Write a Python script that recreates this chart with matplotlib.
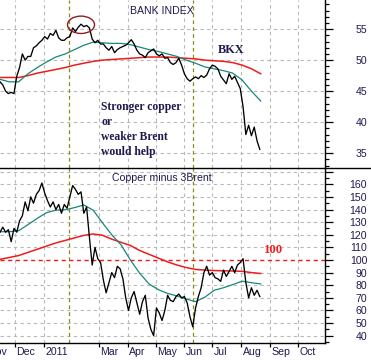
import matplotlib
matplotlib.use('Agg')
import matplotlib.pyplot as plt
import matplotlib.dates as mdates
from matplotlib.patches import Ellipse
from matplotlib.lines import Line2D
import numpy as np
import pandas as pd

plt.rcParams['font.family'] = ['Liberation Sans', 'DejaVu Sans']

# ---- data ----
START = '2010-11-15'

bkx_close = [46.5, 46.0, 45.0, 44.6, 44.8, 44.6, 47.4, 48.8, 51.0, 50.0,
             50.6, 50.6, 52.0, 52.3, 52.8, 53.2, 53.8, 53.4, 54.3, 54.0,
             54.8, 53.6, 53.2, 53.2, 53.6, 53.8, 55.2, 54.6, 55.3, 55.8,
             55.4, 55.6, 55.2, 53.4, 52.8, 53.2, 52.6, 52.6, 52.0, 51.6,
             52.2, 51.2, 51.7, 52.0, 52.2, 52.4, 52.8, 53.3, 52.6, 51.6,
             51.0, 50.8, 50.4, 51.2, 51.5, 51.8, 51.0, 50.7, 51.0, 50.3,
             50.4, 49.6, 49.3, 49.6, 50.3, 49.2, 47.8, 47.0, 46.6, 47.0,
             47.3, 47.0, 47.5, 47.2, 47.6, 48.6, 49.2, 49.0, 48.6, 47.4,
             46.8, 46.2, 47.8, 46.9, 47.4, 46.4, 45.4, 42.5, 38.0, 39.5,
             37.8, 39.2, 37.0, 35.6]

spread_close = [122, 126, 122, 124, 114.5, 125, 122, 131, 135, 146,
                139, 150, 145, 152, 155, 161, 153, 147, 142, 146,
                140, 144, 137, 144, 141, 150, 159, 156, 152, 154,
                137, 142, 118, 96, 110, 101, 98, 84, 74, 82,
                90, 86, 95, 93, 85, 70, 60, 70, 75, 66,
                57, 67, 72, 54, 45, 40, 62, 58, 52, 60,
                72, 68, 67, 71, 73, 70, 71, 66, 55, 47,
                62, 71, 78, 90, 95, 88, 90, 86, 85, 83,
                92, 87, 91, 95, 90, 96, 98, 101, 82, 70,
                78, 72, 76, 71]

# moving averages, sampled every 10 days
bkx_ma50 = [46.9, 46.5, 46.5, 47.8, 48.8, 49.7, 50.5, 51.0, 51.7, 52.4,
            52.9, 52.8, 52.7, 52.7, 52.5, 52.1, 51.7, 51.4, 51.0, 50.6,
            50.0, 49.5, 48.9, 48.6, 48.3, 47.9, 46.8, 45.0, 43.4]
bkx_ma200 = [47.2, 47.2, 47.2, 47.5, 47.9, 48.2, 48.5, 48.8, 49.2, 49.5,
             49.8, 50.0, 50.1, 50.2, 50.3, 50.4, 50.5, 50.5, 50.5, 50.4,
             50.3, 50.2, 50.0, 49.9, 49.8, 49.6, 49.2, 48.6, 47.8]
spread_ma50 = [122.4, 122.4, 123.2, 128, 133, 137.5, 139.5, 139.8, 141.5, 143.6,
               139.5, 129.5, 120, 112, 100, 89.5, 81, 76.5, 73.5, 71.5,
               69, 67, 70.5, 76, 78, 80.5, 83.2, 82, 81]
spread_ma200 = [100.5, 102, 103.5, 106, 108.5, 111, 113.5, 115.5, 117.5, 119.5,
                120.6, 119.6, 116.5, 114, 111.5, 107.5, 104.5, 101.5, 98.5, 96,
                94, 92.5, 92, 91.6, 91.4, 91.3, 91, 90, 89.3]

month_starts = ['2010-11-01', '2010-12-01', '2011-01-01', '2011-03-01', '2011-04-01',
                '2011-05-01', '2011-06-01', '2011-07-01', '2011-08-01', '2011-09-01',
                '2011-10-01']
month_labels = ['Nov', 'Dec', '2011', 'Mar', 'Apr', 'May', 'Jun', 'Jul', 'Aug', 'Sep', 'Oct']
marker_dates = ['2011-01-28', '2011-06-10']
spread_level = 100

daily = pd.date_range(START, periods=len(bkx_close), freq='3D')
ma_dates = pd.date_range(START, periods=len(bkx_ma50), freq='10D')
months = pd.to_datetime(month_starts)

# ---- style ----
BLACK = '#000000'
TEAL = '#17877a'
RED = '#f01c1c'
GRID = '#b8b8b8'
OLIVE = '#8c8c14'
NAVY = '#1e1a4e'

W, H = 371, 360
fig = plt.figure(figsize=(W / 100, H / 100), dpi=100)
fig.patch.set_facecolor('white')
ax1 = fig.add_axes([0, 1 - 168 / H, 325 / W, 168 / H])
ax2 = fig.add_axes([0, 1 - 343 / H, 325 / W, 175 / H])

xmin, xmax = pd.Timestamp('2010-11-15'), pd.Timestamp('2011-10-30')


def base(ax, ylim, major, minor, labels):
    ax.set_xlim(xmin, xmax)
    ax.set_ylim(*ylim)
    for s in ('left', 'top', 'bottom'):
        ax.spines[s].set_visible(False)
    ax.spines['right'].set_linewidth(1.0)
    ax.yaxis.tick_right()
    ax.set_yticks(major, labels=labels, ha='right', fontsize=7.6, color=NAVY)
    ax.set_yticks(minor, minor=True)
    ax.tick_params(axis='y', which='major', length=5.8, width=0.9, pad=24.5)
    ax.tick_params(axis='y', which='minor', length=3, width=0.9)
    ax.set_xticks([])
    for m in months[1:]:
        ax.axvline(m, color=GRID, lw=0.8, ls=(0, (3, 3)), zorder=0)
    for d in pd.to_datetime(marker_dates):
        ax.axvline(d, color=OLIVE, lw=0.9, ls=(0, (3, 2.5)), zorder=1)


# ---- top panel: bank index ----
top_major = [35, 40, 45, 50, 55]
base(ax1, (32.6, 59.7), top_major, np.arange(33, 60, 1), [str(v) for v in top_major])
for v in top_major:
    ax1.axhline(v, color=GRID, lw=0.8, ls=(0, (3, 3)), zorder=0)
ax1.plot(ma_dates, bkx_ma200, color=RED, lw=1.1, zorder=2)
ax1.plot(ma_dates, bkx_ma50, color=TEAL, lw=0.9, zorder=3)
ax1.plot(daily, bkx_close, color=BLACK, lw=0.95, zorder=4)

peak = int(np.argmax(bkx_close))
ax1.add_patch(Ellipse((mdates.date2num(daily[peak]), bkx_close[peak] - 0.1),
                      width=29, height=2.8, fill=False, ec='#8e1c24', lw=1.0, zorder=5))

ax1.text(0.498, 0.935, 'BANK INDEX', transform=ax1.transAxes, ha='center', va='center',
         fontsize=7.6, color=NAVY)
ax1.text(0.711, 0.703, 'BKX', transform=ax1.transAxes, ha='center', va='center',
         fontsize=8.8, fontweight='bold', family='Liberation Serif', color=NAVY)
ax1.text(0.311, 0.228, 'Stronger copper\nor\nweaker Brent\nwould help',
         transform=ax1.transAxes, ha='left', va='center', fontsize=8.4,
         fontweight='bold', family='Liberation Serif', color=NAVY, linespacing=1.33)

# ---- bottom panel: copper minus 3 x brent ----
bot_major = list(range(40, 171, 10))
bot_labels = [str(v) if v <= 160 else '' for v in bot_major]
base(ax2, (34.2, 172.9), bot_major, list(range(35, 171, 10)), bot_labels)
ax2.spines['bottom'].set_visible(True)
ax2.spines['bottom'].set_linewidth(1.0)
for v in bot_major:
    if v != spread_level:
        ax2.axhline(v, color=GRID, lw=0.8, ls=(0, (3, 3)), zorder=0)
ax2.axhline(spread_level, color=RED, lw=1.0, ls=(0, (3, 2.5)), zorder=1)
ax2.plot(ma_dates, spread_ma200, color=RED, lw=1.1, zorder=2)
ax2.plot(ma_dates, spread_ma50, color=TEAL, lw=0.9, zorder=3)
ax2.plot(daily, spread_close, color=BLACK, lw=0.95, zorder=4)

ax2.set_xticks(months[1:])
ax2.set_xticklabels([])
ax2.tick_params(axis='x', which='major', length=3, width=0.9, direction='out')

ax2.text(0.497, 0.943, 'Copper minus 3Brent', transform=ax2.transAxes, ha='center',
         va='center', fontsize=7.6, color=NAVY)
ax2.text(0.843, 0.531, str(spread_level), transform=ax2.transAxes, ha='center',
         va='center', fontsize=9.2, fontweight='bold', family='Liberation Serif', color=RED)

for m, lab in zip(months, month_labels):
    ax2.text(m + pd.Timedelta(days=1.5), -0.052, lab, transform=ax2.get_xaxis_transform(),
             ha='left', va='center', fontsize=7.6, color=NAVY, clip_on=False)

# divider between the panels runs across the whole figure
fig.add_artist(Line2D([0, 1], [1 - 168 / H, 1 - 168 / H], color='black', lw=1.0))

fig.savefig('out.png', dpi=100, facecolor='white')
